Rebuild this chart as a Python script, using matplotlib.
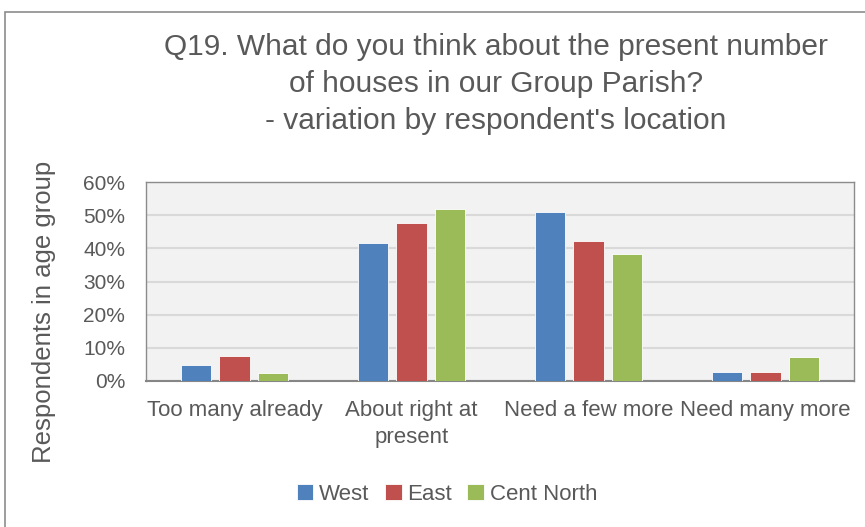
import numpy as np
import matplotlib
matplotlib.use("Agg")
import matplotlib.pyplot as plt
from matplotlib.patches import Rectangle

plt.rcParams['font.family'] = ['Liberation Sans', 'DejaVu Sans']

# ── Data ──────────────────────────────────────────────────────────────
categories = ["Too many already", "About right at\npresent", "Need a few more", "Need many more"]
west = [4.7, 41.5, 51.0, 2.6]
east = [7.5, 47.5, 42.1, 2.6]
cent_north = [2.4, 51.8, 38.2, 7.2]
series_names = ["West", "East", "Cent North"]
y_ticks = [0, 10, 20, 30, 40, 50, 60]

colors = ["#4F81BD", "#C0504D", "#9BBB59"]
text_color = "#595959"

fig = plt.figure(figsize=(8.65, 5.27), dpi=100)
W, H = 865, 527

# outer chart border
fig.patches.append(Rectangle((5 / W, -0.05), 1.1, 1 - 12 / H + 0.05,
                             transform=fig.transFigure, fill=False,
                             edgecolor="#8C8C8C", linewidth=1.2))

ax = fig.add_axes([146 / W, 1 - 381 / H, (854 - 146) / W, (381 - 182) / H])
ax.set_facecolor("#F2F2F2")

x = np.arange(len(categories))
width = 0.17
step = 0.217
for i, (vals, name) in enumerate(zip([west, east, cent_north], series_names)):
    ax.bar(x + (i - 1) * step, vals, width, color=colors[i], label=name,
           edgecolor="white", linewidth=0.6, zorder=3)

ax.set_xlim(-0.5, len(categories) - 0.5)
ax.set_ylim(0, 60)
ax.set_yticks(y_ticks)
ax.set_yticklabels([f"{t}%" for t in y_ticks])
ax.set_xticks(x)
ax.set_xticklabels(categories)
ax.tick_params(axis="x", length=0, labelsize=16, colors=text_color, pad=14)
ax.tick_params(axis="y", length=0, labelsize=15, colors=text_color, pad=15)
for lbl in ax.get_xticklabels():
    lbl.set_linespacing(1.35)

ax.grid(axis="y", color="#D9D9D9", linewidth=1.5, zorder=0)
ax.set_axisbelow(True)
for s in ["top", "right", "left"]:
    ax.spines[s].set_color("#8C8C8C")
    ax.spines[s].set_linewidth(1.0)
ax.spines["bottom"].set_color("#868686")
ax.spines["bottom"].set_linewidth(1.5)

fig.text(496 / W, 1 - 84 / H,
         "Q19. What do you think about the present number\nof houses in our Group Parish?\n- variation by respondent's location",
         ha="center", va="center", fontsize=21.5, color=text_color, linespacing=1.42)

fig.text(44 / W, 1 - 312 / H, "Respondents in age group", rotation=90,
         ha="center", va="center", fontsize=18.5, color=text_color)

fig.legend(loc="center", bbox_to_anchor=(447 / W, 1 - 494 / H), ncol=3,
           frameon=False, fontsize=16, handlelength=0.75, handleheight=0.75,
           handletextpad=0.25, columnspacing=0.7, labelcolor=text_color)

fig.savefig("out.png", dpi=100)
